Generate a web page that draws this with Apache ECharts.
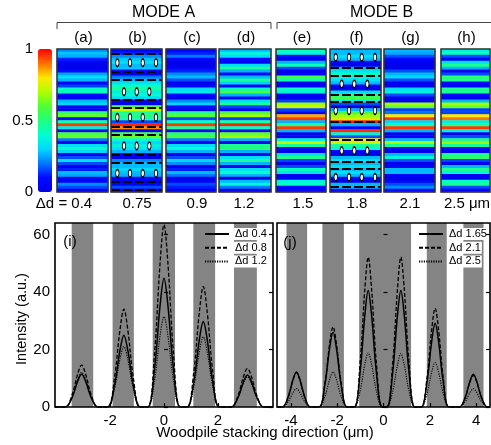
<!DOCTYPE html>
<html><head><meta charset="utf-8">
<script src="https://cdn.jsdelivr.net/npm/echarts@6/dist/echarts.min.js"></script>
<style>html,body{margin:0;padding:0;background:#fff}#c{width:491px;height:445px}</style>
</head><body><div id="c"></div>
<script>
const FONT = '"Liberation Sans", Arial, sans-serif';
// ---------- top panels ----------
const panelLabels = ['(a)','(b)','(c)','(d)','(e)','(f)','(g)','(h)'];
const deltaLabels = ['Δd = 0.4','0.75','0.9','1.2','1.5','1.8','2.1','2.5 μm'];
const modeLabels = ['MODE A','MODE B'];
const colorbarTicks = [0, 0.5, 1];
// intensity profiles, top row to bottom row (48 rows per panel)
const panelA = [0.22,0.28,0.25,0.12,0.06,0.02,0.02,0.1,0.25,0.32,0.26,0.06,0.15,0.42,0.42,0.1,0.06,0.27,0.3,0.06,0.02,0.52,0.62,0.1,0.45,0.95,0.35,0.06,0.58,0.62,0.2,0.06,0.32,0.42,0.3,0.06,0.16,0.32,0.16,0.02,0.12,0.27,0.25,0.06,0.06,0.22,0.16,0.02];
const panelB = [0.06,0.12,0.22,0.28,0.32,0.27,0.28,0.06,0.02,0.2,0.27,0.32,0.42,0.46,0.36,0.4,0.3,0.06,0.02,0.58,0.72,0.46,0.5,0.45,0.15,0.97,0.88,0.06,0.56,0.62,0.4,0.3,0.36,0.32,0.26,0.06,0.02,0.22,0.27,0.27,0.3,0.27,0.26,0.06,0.02,0.06,0.16,0.06];
const panelC = [0.06,0.12,0.2,0.08,0.02,0.02,0.06,0.12,0.22,0.27,0.16,0.02,0.1,0.32,0.35,0.1,0.02,0.22,0.3,0.1,0.02,0.48,0.6,0.15,0.42,0.95,0.46,0.06,0.52,0.58,0.2,0.06,0.32,0.4,0.26,0.02,0.16,0.3,0.22,0.02,0.12,0.27,0.2,0.02,0.06,0.16,0.12,0.02];
const panelD = [0.27,0.38,0.3,0.1,0.06,0.32,0.48,0.26,0.06,0.27,0.48,0.3,0.06,0.42,0.58,0.26,0.06,0.32,0.48,0.15,0.06,0.58,0.68,0.15,0.46,0.97,0.4,0.06,0.62,0.68,0.26,0.06,0.48,0.52,0.26,0.06,0.32,0.48,0.26,0.02,0.32,0.42,0.26,0.02,0.27,0.38,0.2,0.02];
const panelE = [0.43,0.38,0.1,0.04,0.27,0.43,0.15,0.02,0.06,0.58,0.42,0.02,0.06,0.43,0.37,0.06,0.02,0.15,0.68,0.73,0.15,0.06,0.85,0.95,0.26,0.46,0.95,0.26,0.02,0.06,0.37,0.73,0.46,0.06,0.02,0.32,0.48,0.15,0.02,0.16,0.42,0.32,0.02,0.06,0.37,0.42,0.1,0.06];
const panelF = [0.27,0.27,0.32,0.27,0.06,0.02,0.27,0.32,0.42,0.37,0.32,0.27,0.06,0.02,0.32,0.48,0.58,0.37,0.16,0.02,0.27,0.58,0.68,0.73,0.97,0.26,0.06,0.96,0.37,0.16,0.8,0.73,0.46,0.37,0.06,0.02,0.27,0.32,0.27,0.32,0.27,0.32,0.27,0.06,0.02,0.27,0.27,0.06];
const panelG = [0.27,0.25,0.16,0.1,0.04,0.02,0.02,0.16,0.27,0.3,0.16,0.02,0.02,0.32,0.37,0.16,0.02,0.06,0.68,0.62,0.15,0.2,0.8,0.95,0.3,0.42,0.95,0.26,0.02,0.06,0.27,0.68,0.46,0.06,0.02,0.27,0.37,0.16,0.02,0.06,0.27,0.27,0.06,0.02,0.06,0.16,0.22,0.1];
const panelH = [0.37,0.42,0.16,0.06,0.32,0.48,0.26,0.02,0.16,0.52,0.48,0.1,0.06,0.48,0.48,0.1,0.02,0.27,0.68,0.62,0.15,0.15,0.8,0.9,0.36,0.46,0.95,0.36,0.02,0.16,0.48,0.68,0.46,0.06,0.06,0.48,0.52,0.15,0.02,0.27,0.48,0.37,0.02,0.06,0.42,0.48,0.16,0.06];
const profiles = [panelA,panelB,panelC,panelD,panelE,panelF,panelG,panelH];
// woodpile overlay (fractions of panel width / height)
const rodColsA = [0.124,0.373,0.622,0.882];
const rodColsB = [0.255,0.504,0.751];
const rodRowsB = [0.096,0.299,0.478,0.678,0.869];
const barLinesB = [0.03,0.159,0.217,0.357,0.413,0.545,0.601,0.741,0.797,0.928,0.986];
const rodColsFA = [0.112,0.373,0.622,0.882];
const rodColsFB = [0.229,0.476,0.731];
const rodRowsF = [0.058,0.245,0.431,0.711,0.897];
const barLinesF = [0.133,0.185,0.322,0.371,0.51,0.636,0.79,0.836,0.965];
// ---------- bottom plots ----------
const yTicks = [0,20,40,60];
const leftXTicks = [-2,0,2];
const rightXTicks = [-4,-2,0,2,4];
const leftNames = ['Δd 0.4','Δd 0.8','Δd 1.2'];
const rightNames = ['Δd 1.65','Δd 2.1','Δd 2.5'];
const leftBands = [[-3.43,-2.63],[-1.91,-1.12],[-0.42,0.41],[1.09,1.90],[2.60,3.45]];
const rightBands = [[-4.19,-3.30],[-2.64,-1.71],[-1.05,1.19],[1.87,2.73],[3.45,4.32]];
const leftX = [-4.05,
 -3.66,-3.41,-3.21,-3.06,-2.91,-2.71,-2.46,
 -2.09,-1.84,-1.64,-1.49,-1.34,-1.14,-0.89,
 -0.60,-0.35,-0.15,0,0.15,0.35,0.60,
 0.86,1.11,1.31,1.46,1.61,1.81,2.06,
 2.50,2.75,2.95,3.10,3.25,3.45,3.70,
 4.05];
const leftSolid = [0,
 0,3.4,8.9,11.4,8.9,3.4,0,
 0,7.5,19.5,25,19.5,7.5,0,
 0,13.4,34.9,44.8,34.9,13.4,0,
 0,8.9,23.2,29.7,23.2,8.9,0,
 0,3.3,8.7,11.1,8.7,3.3,0,
 0];
const leftDashed = [0,
 0,4.4,11.4,14.6,11.4,4.4,0,
 0,10.2,26.5,34,26.5,10.2,0,
 0,19,49.5,63.4,49.5,19,0,
 0,12.6,32.7,41.9,32.7,12.6,0,
 0,4,10.5,13.4,10.5,4,0,
 0];
const leftDotted = [0,
 0,3.6,9.4,12,9.4,3.6,0,
 0,6.3,16.4,21,16.4,6.3,0,
 0,9.4,24.5,31.4,24.5,9.4,0,
 0,7.3,19,24.4,19,7.3,0,
 0,3.2,8.2,10.5,8.2,3.2,0,
 0];
const rightX = [-4.6,
 -4.36,-4.11,-3.91,-3.76,-3.61,-3.41,-3.16,
 -2.78,-2.53,-2.33,-2.18,-2.03,-1.83,-1.58,
 -1.26,-1.01,-0.81,-0.66,-0.51,-0.31,-0.06,
 0.15,0.40,0.60,0.75,0.90,1.10,1.35,
 1.63,1.88,2.08,2.23,2.38,2.58,2.83,
 3.28,3.53,3.73,3.88,4.03,4.23,4.48,
 4.6];
const rightSolid = [0,
 0,3.7,9.5,12.2,9.5,3.7,0,
 0,7.8,20.3,26,20.3,7.8,0,
 0,12.2,31.6,40.5,31.6,12.2,0,
 0,12.2,31.6,40.5,31.6,12.2,0,
 0,8.7,22.7,29.1,22.7,8.7,0,
 0,3.4,8.9,11.4,8.9,3.4,0,
 0];
const rightDashed = [0,
 0,3.6,9.4,12,9.4,3.6,0,
 0,8.4,21.8,27.9,21.8,8.4,0,
 0,15.6,40.6,52.1,40.6,15.6,0,
 0,15.6,40.6,52.1,40.6,15.6,0,
 0,10.3,26.8,34.3,26.8,10.3,0,
 0,3.3,8.6,11,8.6,3.3,0,
 0];
const rightDotted = [0,
 0,1.9,5,6.4,5,1.9,0,
 0,3.7,9.5,12.2,9.5,3.7,0,
 0,5.6,14.7,18.8,14.7,5.6,0,
 0,5.6,14.5,18.6,14.5,5.6,0,
 0,4.7,12.1,15.5,12.1,4.7,0,
 0,1.9,5,6.4,5,1.9,0,
 0];

// ---------- layout ----------
const panelLeft = [57,111,166,219,276,330,384,441];
const panelWidth = [51,51,50,52,50,51,51,49];
const panelTop = 49, panelHeight = 143;
const deltaX = [64,137,197,244,303,357,410,467];
const jet = ['#0000e8','#0008ff','#0078ff','#00d8ff','#00ffd0','#20ff80','#50ff30','#b0ff00','#ffe800','#ff7000','#ff0000'];
const yMax = 64;

const chart = echarts.init(document.getElementById('c'), null, {renderer:'canvas'});
const grid = [], xAxis = [], yAxis = [], series = [];
const rowIdx = panelA.map((_, i) => i);
const txt = (x, y, s, size, extra) => Object.assign({type:'text', x, y, z:100, style:{text:s, fontSize:size, fontFamily:FONT, fill:'#000', textAlign:'center', textVerticalAlign:'middle'}}, extra||{});

profiles.forEach((p, i) => {
  grid.push({left:panelLeft[i], top:panelTop, width:panelWidth[i], height:panelHeight, show:true, borderColor:'#333', borderWidth:1.5, z:10, backgroundColor:'rgba(0,0,0,0)'});
  xAxis.push({type:'category', gridIndex:i, data:['c'], show:false});
  yAxis.push({type:'category', gridIndex:i, data:rowIdx, show:false, inverse:true});
  series.push({type:'heatmap', xAxisIndex:i, yAxisIndex:i, data:p.map((v, r) => [0, r, v]), emphasis:{disabled:true}, progressive:0});
});
// overlay axes for panels b (1) and f (5)
[1,5].forEach(g => {
  xAxis.push({type:'value', gridIndex:g, min:0, max:1, show:false});
  yAxis.push({type:'value', gridIndex:g, min:0, max:1, inverse:true, show:false});
});
// colorbar label grid
grid.push({left:38, top:panelTop, width:14, height:panelHeight});
xAxis.push({type:'value', gridIndex:8, show:false, min:0, max:1});
yAxis.push({type:'value', gridIndex:8, min:0, max:1, interval:0.5, axisLine:{show:false}, axisTick:{show:false}, splitLine:{show:false},
  axisLabel:{fontSize:15, fontFamily:FONT, color:'#000', margin:5, showMinLabel:true, showMaxLabel:true, formatter:v => String(v)}});
// bottom plot grids
grid.push({left:55, top:223, width:218, height:184, show:true, borderColor:'#000', borderWidth:1.6, z:10, backgroundColor:'rgba(0,0,0,0)'});
grid.push({left:277, top:223, width:213, height:184, show:true, borderColor:'#000', borderWidth:1.6, z:10, backgroundColor:'rgba(0,0,0,0)'});
const tickStyle = {inside:true, length:4, lineStyle:{color:'#000', width:1.2}};
const lab = {fontSize:15, fontFamily:FONT, color:'#000'};
xAxis.push({type:'value', gridIndex:9, min:-4.05, max:4.05, z:10, axisLine:{show:false}, splitLine:{show:false},
  axisTick:Object.assign({customValues:leftXTicks}, tickStyle), axisLabel:Object.assign({customValues:leftXTicks, margin:6}, lab)});
xAxis.push({type:'value', gridIndex:10, min:-4.6, max:4.6, z:10, axisLine:{show:false}, splitLine:{show:false},
  axisTick:Object.assign({customValues:rightXTicks}, tickStyle), axisLabel:Object.assign({customValues:rightXTicks, margin:6}, lab)});
[9,10].forEach(g => {
  yAxis.push({type:'value', gridIndex:g, min:0, max:yMax, z:10, position:'left', axisLine:{show:false}, splitLine:{show:false},
    axisTick:Object.assign({customValues:yTicks}, tickStyle), axisLabel:Object.assign({customValues:yTicks, margin:5, show:g===9}, lab)});
  yAxis.push({type:'value', gridIndex:g, min:0, max:yMax, z:10, position:'right', axisLine:{show:false}, splitLine:{show:false},
    axisTick:Object.assign({customValues:yTicks}, tickStyle), axisLabel:{show:false}});
});
// woodpile overlays
const ellipse = 'path://M50,0A50,50,0,1,1,50,100A50,50,0,1,1,50,0Z';
function overlay(rows, colsA, colsB, bars, axisIdx) {
  const pts = [];
  rows.forEach((r, k) => (k % 2 === 0 ? colsA : colsB).forEach(c => pts.push([c, r])));
  series.push({type:'lines', coordinateSystem:'cartesian2d', xAxisIndex:axisIdx, yAxisIndex:axisIdx, z:3, silent:true,
    data:bars.map(b => ({coords:[[0, b],[1, b]]})), lineStyle:{color:'#000', width:2, type:[9,3], opacity:1}});
  series.push({type:'scatter', xAxisIndex:axisIdx, yAxisIndex:axisIdx, z:4, silent:true, symbol:ellipse, symbolSize:[3.4,7.5],
    data:pts, itemStyle:{color:'#fff', borderColor:'#000', borderWidth:1.2, opacity:1}});
}
overlay(rodRowsB, rodColsA, rodColsB, barLinesB, 8);
overlay(rodRowsF, rodColsFA, rodColsFB, barLinesF, 9);
// bands
function bands(data, xi, yi) {
  series.push({type:'custom', xAxisIndex:xi, yAxisIndex:yi, z:1, silent:true, data:data, encode:{x:[0,1]}, clip:true,
    renderItem:(params, api) => {
      const p0 = api.coord([api.value(0), yMax]);
      const p1 = api.coord([api.value(1), 0]);
      return {type:'rect', shape:{x:p0[0], y:p0[1], width:p1[0]-p0[0], height:p1[1]-p0[1]}, style:{fill:'#848484'}};
    }});
}
const styles = [{type:'solid', width:1.5}, {type:[4,2], width:1.3}, {type:[1.2,1.2], width:1.1}];
function lines(names, xs, ysList, xi, yi) {
  ysList.forEach((ys, k) => series.push({type:'line', name:names[k], xAxisIndex:xi, yAxisIndex:yi, z:5, smooth:0.35, symbol:'none', clip:true,
    data:xs.map((x, j) => [x, ys[j]]), lineStyle:Object.assign({color:'#000'}, styles[k]), itemStyle:{color:'#000'}}));
}
bands(leftBands, 11, 11);
lines(leftNames, leftX, [leftSolid, leftDashed, leftDotted], 11, 11);
bands(rightBands, 12, 13);
lines(rightNames, rightX, [rightSolid, rightDashed, rightDotted], 12, 13);

const legendBase = {orient:'vertical', top:228, itemWidth:24, itemHeight:12, itemGap:1.7, padding:0, selectedMode:false,
  itemStyle:{opacity:0},
  textStyle:{fontSize:11, fontFamily:FONT, color:'#000', backgroundColor:'#fff', padding:[1,1,0,1]}};

const graphic = [];
graphic.push(txt(163.5, 13, modeLabels[0], 16));
graphic.push(txt(381.5, 13, modeLabels[1], 16));
graphic.push({type:'polyline', shape:{points:[[57,29],[57,22.5],[271,22.5],[271,29]]}, style:{stroke:'#444', lineWidth:1, fill:null}});
graphic.push({type:'polyline', shape:{points:[[277,29],[277,22.5],[492,22.5]]}, style:{stroke:'#444', lineWidth:1, fill:null}});
panelLabels.forEach((s, i) => graphic.push(txt(panelLeft[i] + panelWidth[i]/2 + 1, 38, s, 15)));
deltaLabels.forEach((s, i) => graphic.push(txt(deltaX[i], 204, s, 15)));
graphic.push(txt(70, 242, '(i)', 15));
graphic.push(txt(290, 243, '(j)', 15));
graphic.push(txt(265, 433, 'Woodpile stacking direction (μm)', 15));
graphic.push(txt(22, 319, 'Intensity (a.u.)', 14.5, {rotation:Math.PI/2}));

chart.setOption({
  animation:false,
  backgroundColor:'#fff',
  textStyle:{fontFamily:FONT},
  grid, xAxis, yAxis, series, graphic,
  visualMap:{type:'continuous', min:0, max:1, seriesIndex:[0,1,2,3,4,5,6,7], left:38, top:panelTop, itemWidth:14, itemHeight:panelHeight,
    padding:0, calculable:false, hoverLink:false, inRange:{color:jet}},
  legend:[Object.assign({left:204, data:leftNames}, legendBase), Object.assign({left:418, data:rightNames}, legendBase)]
});
</script></body></html>
